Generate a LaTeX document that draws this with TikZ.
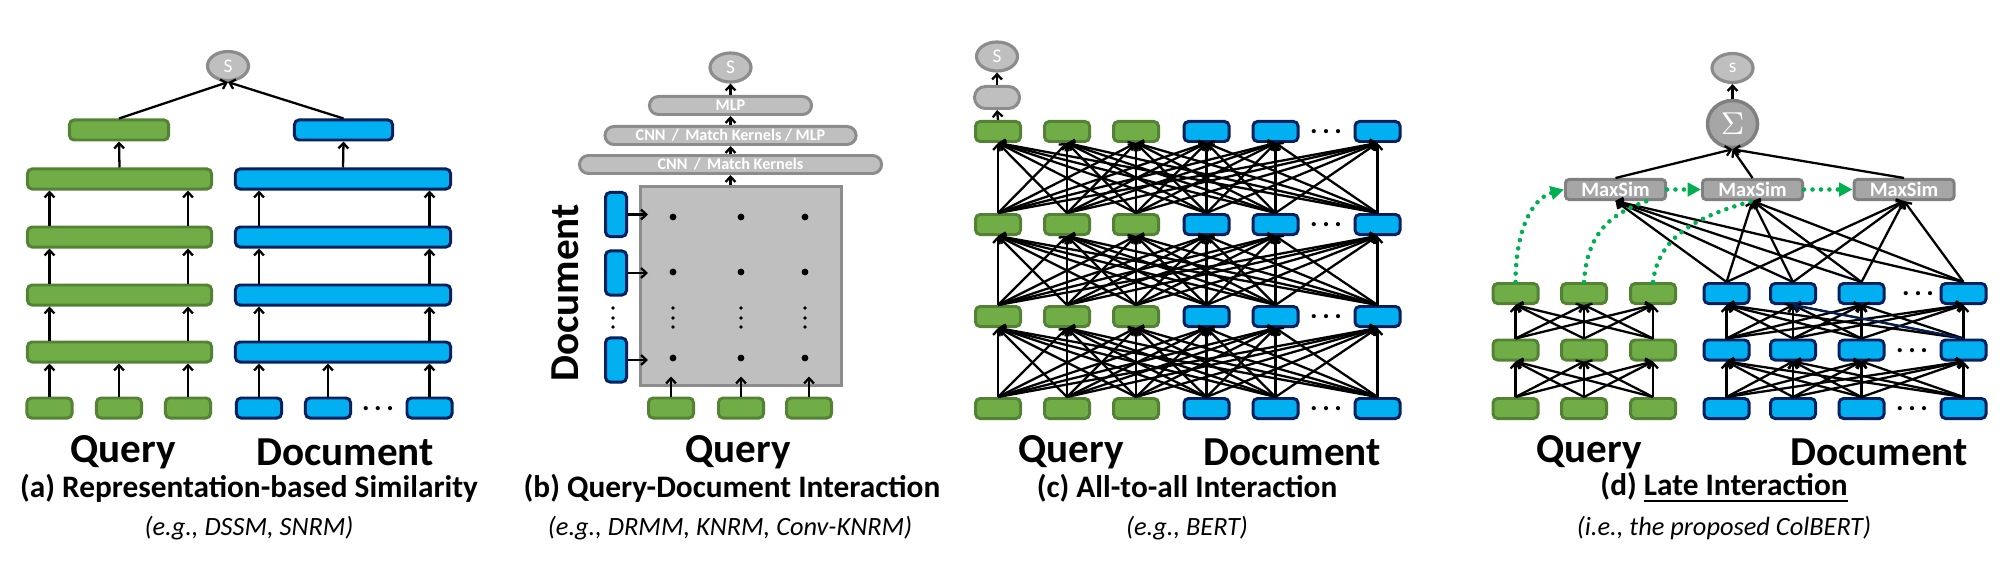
\documentclass[tikz,border=0pt]{standalone}
\usepackage{fontspec}
\setmainfont{Carlito}
\usetikzlibrary{arrows.meta,shapes.geometric}

\definecolor{qfill}{HTML}{70AD47}
\definecolor{qline}{HTML}{548235}
\definecolor{dfill}{HTML}{00B0F0}
\definecolor{dline}{HTML}{002060}
\definecolor{pfill}{HTML}{BFBFBF}
\definecolor{pline}{HTML}{8C8C8C}
\definecolor{mfill}{HTML}{A6A6A6}
\definecolor{mline}{HTML}{808080}
\definecolor{hopgreen}{HTML}{00B050}
\newcommand{\sizept}[1]{\fontsize{#1}{#1}\selectfont}
\newcommand{\etcdots}{.\kern1.3pt.\kern1.3pt.}

\begin{document}
\begin{tikzpicture}[x=0.01cm, y=-0.01cm,
    qbox/.style={draw=qline, fill=qfill, line width=0.85pt, rounded corners=1.3pt,
      minimum width=0.45cm, minimum height=0.20cm, inner sep=0pt},
    dbox/.style={qbox, draw=dline, fill=dfill},
    sbub/.style={ellipse, draw=pline, fill=pfill, line width=0.9pt, inner sep=0pt,
      minimum width=0.41cm, minimum height=0.29cm, text=white, font=\sizept{5.5}},
    pill/.style={draw=pline, fill=pfill, line width=0.85pt, rounded corners=0.09cm,
      minimum height=0.18cm, inner sep=0pt, text=white, font=\bfseries\sizept{4.6}},
    msbox/.style={draw=mline, fill=mfill, line width=0.85pt, rounded corners=1pt,
      minimum width=1.0cm, minimum height=0.20cm, inner sep=0pt, text=white,
      font=\bfseries\sizept{5.8}},
    wire/.style={line width=0.65pt, -{Straight Barb[length=1.5pt,width=2.8pt]}},
    hop/.style={draw=hopgreen, line width=1.3pt, line cap=round,
      dash pattern=on 0pt off 2.4pt,
      -{Triangle[length=3.8pt,width=3.8pt,fill=hopgreen]}},
    etc/.style={font=\bfseries\sizept{8}, inner sep=0pt, anchor=base},
    lab/.style={font=\bfseries\sizept{11.7}, inner sep=0pt},
    capt/.style={font=\bfseries\sizept{8.9}, inner sep=0pt},
    subcapt/.style={font=\itshape\sizept{7.5}, inner sep=0pt}]
  \useasboundingbox (0,0) rectangle (2007,573);

  % (a)
  \node[sbub] (aS) at (228,66) {S};
  \node[qbox, minimum width=0.99cm] (aqtop) at (119,130) {};
  \node[dbox, minimum width=0.98cm] (adtop) at (343.5,130) {};
  \foreach \r/\y in {1/352,2/295,3/237,4/179} {
    \node[qbox, minimum width=1.84cm] (aqL\r) at (119.5,\y) {};
    \node[dbox, minimum width=2.15cm] (adL\r) at (343,\y) {};
  }
  \foreach \k/\x in {1/49.5,2/119,3/188} \node[qbox] (aq\k) at (\x,408) {};
  \foreach \k/\x in {1/259,2/328,3/429.5} \node[dbox] (ad\k) at (\x,408) {};
  \node[etc] (adots) at (378,410) {\etcdots};
  \foreach \k in {1,2,3} {
    \draw[wire] (aq\k.north) -- (aq\k.north |- aqL1.south);
    \draw[wire] (ad\k.north) -- (ad\k.north |- adL1.south);
  }
  \foreach \r/\s in {1/2,2/3,3/4}
    \foreach \k in {1,3} {
      \draw[wire] (aqL\r.north -| aq\k) -- (aqL\s.south -| aq\k);
      \draw[wire] (adL\r.north -| ad\k) -- (adL\s.south -| ad\k);
    }
  \draw[wire] (aqL4.north) -- (aqtop.south);
  \draw[wire] (adL4.north) -- (adtop.south);
  \draw[wire] (aqtop.north) -- (aS.south);
  \draw[wire] (adtop.north) -- (aS.south);
  \node[lab] (aqlab) at (123,452) {Query};
  \node[lab] (adlab) at (345,452) {Document};
  \node[capt] (acap) at (249,488) {(a) Representation-based Similarity};
  \node[subcapt] (asub) at (249,528) {(e.g., DSSM, SNRM)};

  % (b)
  \node[sbub] (bS) at (730.5,67.5) {S};
  \node[pill, minimum width=1.62cm] (bp3) at (730.5,105.5) {MLP};
  \node[pill, minimum width=2.51cm] (bp2) at (730.5,135.5) {CNN \,/\, Match Kernels / MLP};
  \node[pill, minimum width=3.02cm] (bp1) at (730.5,164.5) {CNN \,/\, Match Kernels};
  \node[draw=pline, fill=pfill, line width=1pt, minimum width=2.01cm,
    minimum height=1.99cm, inner sep=0pt] (bsq) at (741,286) {};
  \foreach \k/\y in {1/214.5,2/273,3/360} {
    \node[dbox, minimum width=0.21cm, minimum height=0.44cm] (bd\k) at (616,\y) {};
    \draw[wire] (bd\k.east) -- ++(20,0);
  }
  \foreach \k/\x in {1/671,2/741,3/809} {
    \node[qbox] (bq\k) at (\x,408) {};
    \draw[wire] (bq\k.north) -- ++(0,-20);
  }
  \foreach \x in {673,741,805} {
    \foreach \y in {217,272,358} \fill (\x,\y) circle (0.034cm);
    \foreach \y in {308,318,327} \fill (\x,\y) circle (0.019cm);
  }
  \foreach \y in {308,318,327} \fill (613,\y) circle (0.019cm);
  \draw[wire] (bp1.south |- bsq.north) -- (bp1.south);
  \draw[wire] (bp1.north) -- (bp2.south);
  \draw[wire] (bp2.north) -- (bp3.south);
  \draw[wire] (bp3.north) -- (bS.south);
  \node[lab, rotate=90] (bdlab) at (565,293) {Document};
  \node[lab] (bqlab) at (738,452) {Query};
  \node[capt] (bcap) at (732,488) {(b) Query-Document Interaction};
  \node[subcapt] (bsub) at (730,528) {(e.g., DRMM, KNRM, Conv-KNRM)};

  % (c)
  \node[sbub] (cS) at (997,56.5) {S};
  \node[pill, minimum width=0.45cm, minimum height=0.22cm, rounded corners=0.11cm]
    (cagg) at (997,97.5) {};
  \foreach \r/\y in {1/408.5,2/316.5,3/224.5,4/131.5} {
    \foreach \k/\x in {1/998,2/1067,3/1136} \node[qbox] (c\r-\k) at (\x,\y) {};
    \foreach \k/\x in {4/1206.5,5/1275.5,6/1377.5} \node[dbox] (c\r-\k) at (\x,\y) {};
    \node[etc] (cdots\r) at (1326,\y+2) {\etcdots};
  }
  \foreach \r/\s in {1/2,2/3,3/4}
    \foreach \i in {1,...,6}
      \foreach \j in {1,...,6}
        \draw[wire] (c\r-\i.north) -- (c\s-\j.south);
  \draw[wire] (c4-1.north) -- (cagg.south);
  \draw[wire] (cagg.north) -- (cS.south);
  \node[lab] (cqlab) at (1071,452) {Query};
  \node[lab] (cdlab) at (1292,452) {Document};
  \node[capt] (ccap) at (1187,488) {(c) All-to-all Interaction};
  \node[subcapt] (csub) at (1187,528) {(e.g., BERT)};

  % (d)
  \node[sbub] (dS) at (1732.5,68) {s};
  \node[ellipse, draw=mline, fill=mfill, line width=1pt, minimum width=0.50cm,
    minimum height=0.47cm, inner sep=0pt, text=white, font=\sizept{9.5}]
    (dsum) at (1732.5,124) {$\Sigma$};
  \foreach \k/\x in {1/1615.5,2/1752.5,3/1904} \node[msbox] (ms\k) at (\x,189.5) {MaxSim};
  \foreach \r/\y/\e in {1/408.5/1912,2/350/1912,3/293.5/1918} {
    \foreach \k/\x in {1/1515.5,2/1584,3/1653} \node[qbox] (dq\r-\k) at (\x,\y) {};
    \foreach \k/\x in {1/1726.5,2/1793,3/1861.5,4/1963.5} \node[dbox] (dd\r-\k) at (\x,\y) {};
    \node[etc] (ddots\r) at (\e,\y+2) {\etcdots};
  }
  \foreach \r/\s in {1/2,2/3} {
    \foreach \i in {1,2,3}
      \foreach \j in {1,2,3}
        \draw[wire] (dq\r-\i.north) -- (dq\s-\j.south);
    \foreach \i in {1,...,4}
      \foreach \j in {1,...,4}
        \draw[wire] (dd\r-\i.north) -- (dd\s-\j.south);
  }
  \draw[wire, draw=dline, line width=0.5pt] (dd2-4.north) -- (dd3-2.south);
  \foreach \k in {1,2,3} {
    \foreach \j in {1,...,4} \draw[wire] (dd3-\j.north) -- (ms\k.south);
    \draw[wire] (ms\k.north) -- (dsum.south);
  }
  \draw[wire] (dsum.north) -- (dS.south);
  \draw[hop] (dq3-1.north) .. controls +(0,-55) and +(-30,8) .. (ms1.west);
  \draw[hop, -] (dq3-2.north) .. controls +(3,-50) and +(-35,12) .. (ms1.-20);
  \draw[hop] (ms1.east) -- (ms2.west);
  \draw[hop, -] (dq3-3.north) .. controls +(5,-45) and +(-55,15) .. (ms2.south);
  \draw[hop] (ms2.east) -- (ms3.west);
  \node[lab] (dqlab) at (1589,452) {Query};
  \node[lab] (ddlab) at (1879,452) {Document};
  \node[capt] (dcap) at (1724,488) {(d) \underline{Late Interaction}};
  \node[subcapt] (dsub) at (1724,528) {(i.e., the proposed ColBERT)};
\end{tikzpicture}
\end{document}
